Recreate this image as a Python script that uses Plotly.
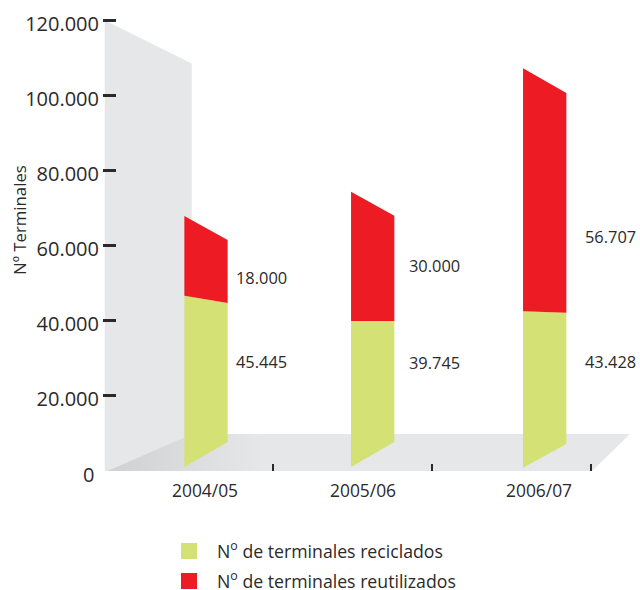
import plotly.graph_objects as go

# --- data (labels, and the band edges in axis units) ---
periodos = ["2004/05", "2005/06", "2006/07"]
reciclados = [45445, 39745, 43428]
reutilizados = [18000, 30000, 56707]
base_frente = [880, 880, 690]
base_fondo = [7550, 7550, 7010]
verde_frente = [46560, 39810, 42400]
verde_fondo = [44610, 39810, 42030]
rojo_frente = [67810, 74290, 107190]
rojo_fondo = [61410, 67890, 100640]
y_ticks = [20000, 40000, 60000, 80000, 100000, 120000]
y_labels = ["20.000", "40.000", "60.000", "80.000", "100.000", "120.000"]

# --- layout helpers ---
W, H = 640, 590
L_M, T_M, B_M = 103, 15, 119
PLOT_W, PLOT_H = W - L_M, H - T_M - B_M
PX_X0, PX_X_UNIT = 114.0, 159.0
Y0_PX, PX_PER_UNIT = 470.3, 3.75 / 1000


def xv(px):
    return (px - PX_X0) / PX_X_UNIT


def yv(py):
    return (Y0_PX - py) / PX_PER_UNIT


def xp(px):
    return (px - L_M) / PLOT_W


def yp(py):
    return 1 - (py - T_M) / PLOT_H


bar_centros = [xv(206), xv(372.7), xv(544.7)]
bar_ancho = 43.3 / PX_X_UNIT
VERDE, ROJO, GRIS, TEXTO = "#d4e174", "#ed1c24", "#e6e7e8", "#2b2a29"
FONT = "Open Sans"


def bandas(abajo_f, abajo_b, arriba_f, arriba_b):
    xs, ys = [], []
    for c, a, b, d, e in zip(bar_centros, abajo_f, abajo_b, arriba_b, arriba_f):
        l, r = c - bar_ancho / 2, c + bar_ancho / 2
        xs += [l, r, r, l, l, None]
        ys += [a, b, d, e, a, None]
    return xs, ys


fig = go.Figure()

# back wall
fig.add_trace(go.Scatter(
    x=[xv(104.7), xv(191.7), xv(191.7), xv(104.7), xv(104.7)],
    y=[120000, yv(63.5), yv(434), yv(472), 120000],
    mode="lines", line=dict(width=0), fill="toself", fillcolor=GRIS,
    showlegend=False, hoverinfo="skip", cliponaxis=False))
# floor
fig.add_trace(go.Scatter(
    x=[xv(104.7), xv(191.7), xv(630), xv(591), xv(104.7)],
    y=[yv(472), yv(434), yv(434), yv(472), yv(472)],
    mode="lines", line=dict(width=0), fill="toself",
    fillgradient=dict(type="horizontal",
                      colorscale=[[0, "#cfd0d2"], [0.3, GRIS], [1, GRIS]]),
    showlegend=False, hoverinfo="skip", cliponaxis=False))

xg, yg = bandas(base_frente, base_fondo, verde_frente, verde_fondo)
fig.add_trace(go.Scatter(x=xg, y=yg, mode="lines", line=dict(width=0),
                         fill="toself", fillcolor=VERDE, showlegend=False,
                         hoverinfo="skip", cliponaxis=False))
xr, yr = bandas(verde_frente, verde_fondo, rojo_frente, rojo_fondo)
fig.add_trace(go.Scatter(x=xr, y=yr, mode="lines", line=dict(width=0),
                         fill="toself", fillcolor=ROJO, showlegend=False,
                         hoverinfo="skip", cliponaxis=False))

# legend entries
for nombre, color in [("N<sup>o</sup> de terminales reciclados", VERDE),
                      ("N<sup>o</sup> de terminales reutilizados", ROJO)]:
    fig.add_trace(go.Scatter(x=[None], y=[None], mode="markers", name=nombre,
                             legendgroup=nombre,
                             marker=dict(symbol="square", size=16, color=color)))

anot = []
# value labels
lab_x = [236, 409.3, 585]
lab_y_rojo = [277, 265, 236]
lab_y_verde = [361.7, 362, 361]
for px, pr, pv, r, v in zip(lab_x, lab_y_rojo, lab_y_verde, reutilizados, reciclados):
    for py, val in ((pr, r), (pv, v)):
        anot.append(dict(xref="paper", yref="paper", x=xp(px), y=yp(py),
                         text=f"{val:,}".replace(",", "."),
                         xanchor="left", yanchor="middle", showarrow=False,
                         xshift=-2,
                         font=dict(size=16.4, color=TEXTO, family=FONT)))
# categories
for px, per in zip([205, 363.3, 539.3], periodos):
    anot.append(dict(xref="paper", yref="paper", x=xp(px), y=yp(490), text=per,
                     showarrow=False, xanchor="center", yanchor="middle",
                     font=dict(size=17.4, color=TEXTO, family=FONT)))
# zero label
anot.append(dict(xref="paper", yref="paper", x=xp(88.5), y=yp(474), text="0",
                 showarrow=False, xanchor="center", yanchor="middle",
                 font=dict(size=20, color=TEXTO, family=FONT)))
# y title
anot.append(dict(xref="paper", yref="paper", x=xp(19), y=yp(220),
                 text="Nº Terminales", showarrow=False,
                 textangle=-90, xanchor="center", yanchor="middle",
                 font=dict(size=16.8, color=TEXTO, family=FONT)))

fig.update_layout(
    width=W, height=H, autosize=False,
    margin=dict(l=L_M, r=0, t=T_M, b=B_M, pad=0),
    paper_bgcolor="white", plot_bgcolor="white",
    font=dict(family=FONT, color=TEXTO),
    annotations=anot,
    showlegend=True,
    legend=dict(x=xp(161), y=1 - 533 / H, xref="paper", yref="container",
                xanchor="left", yanchor="top",
                bgcolor="rgba(0,0,0,0)", traceorder="grouped",
                tracegroupgap=4, itemwidth=46,
                font=dict(size=17.7, color=TEXTO, family=FONT)),
    xaxis=dict(range=[xv(L_M), xv(W)], tickmode="array", tickvals=[1, 2, 3],
               showticklabels=False, ticks="inside", ticklen=7, tickwidth=2,
               tickcolor="#2b2a29", showgrid=False, zeroline=False,
               showline=False, fixedrange=True),
    yaxis=dict(range=[yv(H - B_M), yv(T_M)], tickmode="array", tickvals=y_ticks,
               ticktext=y_labels, ticks="inside", ticklen=13, tickwidth=2.5,
               tickcolor="#2b2a29", ticklabelshift=4, ticklabelstandoff=3,
               tickfont=dict(size=20, color=TEXTO, family=FONT),
               showgrid=False, zeroline=False, showline=False, fixedrange=True),
)

fig.write_html("out.html", config=dict(displayModeBar=False),
               post_script="document.body.style.margin='0';document.body.style.overflow='hidden';")
